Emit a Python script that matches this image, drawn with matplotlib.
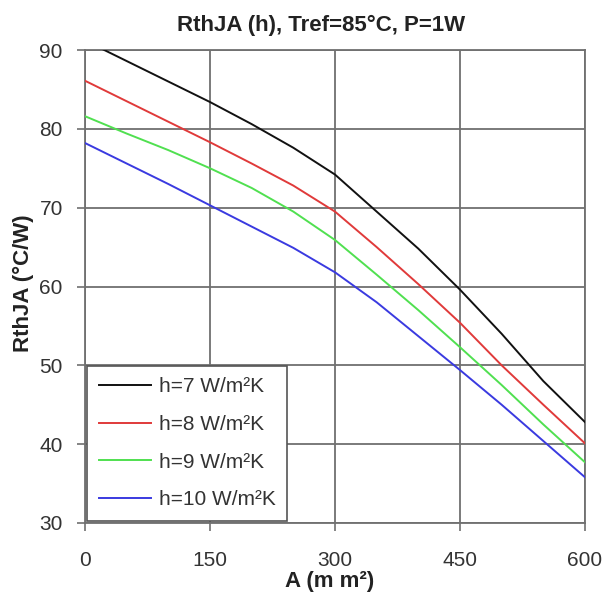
import matplotlib
matplotlib.use("Agg")
import matplotlib.pyplot as plt

area = [0, 50, 100, 150, 200, 250, 300, 350, 400, 450, 500, 550, 600]
r_h7 = [91.2, 88.6, 86.0, 83.4, 80.6, 77.6, 74.2, 69.5, 64.8, 59.6, 54.0, 48.0, 42.8]
r_h8 = [86.1, 83.5, 80.9, 78.3, 75.6, 72.8, 69.5, 65.0, 60.3, 55.4, 50.0, 45.0, 40.1]
r_h9 = [81.6, 79.4, 77.3, 75.0, 72.5, 69.5, 65.9, 61.5, 57.0, 52.3, 47.5, 42.5, 37.7]
r_h10 = [78.2, 75.6, 73.0, 70.3, 67.6, 64.9, 61.8, 58.0, 53.7, 49.4, 45.0, 40.4, 35.8]
labels = ["h=7 W/m²K", "h=8 W/m²K", "h=9 W/m²K", "h=10 W/m²K"]
colors = ["#111111", "#e03a3a", "#50e050", "#3a3ae0"]
xticks = [0, 150, 300, 450, 600]
yticks = [30, 40, 50, 60, 70, 80, 90]

plt.rcParams['font.family'] = ['Liberation Sans', 'DejaVu Sans']

W, H = 605, 592
fig = plt.figure(figsize=(W/100, H/100), dpi=100)
ax = fig.add_axes([85/W, 1-523/H, 500/W, 473/H])

grid_c = "#707070"
for s, lab, c in zip([r_h7, r_h8, r_h9, r_h10], labels, colors):
    ax.plot(area, s, color=c, lw=1.4, label=lab, zorder=3)

ax.set_xlim(0, 600)
ax.set_ylim(30, 90)
ax.set_xticks(xticks)
ax.set_yticks(yticks)
ax.grid(True, color=grid_c, lw=1.3)
for sp in ax.spines.values():
    sp.set_color(grid_c)
    sp.set_linewidth(1.3)
ax.tick_params(axis='both', colors=grid_c, length=6, width=1.2, labelsize=15,
               labelcolor="#333333")
ax.tick_params(axis='x', pad=14)
ax.tick_params(axis='y', pad=10)

fig.text(321.5/W, 1-25/H, "RthJA (h), Tref=85°C, P=1W", fontsize=16,
         fontweight='bold', color="#222222", ha='center', va='center')
fig.text(330/W, 1-582/H, "A (m m²)", fontsize=16, fontweight='bold',
         color="#222222", ha='center', va='center')
fig.text(23/W, 1-283/H, "RthJA (°C/W)", fontsize=16, fontweight='bold',
         color="#222222", ha='center', va='center', rotation=90)

leg = ax.legend(loc='lower left', bbox_to_anchor=(0.0, 0.0), fontsize=15,
                frameon=True, fancybox=False, handlelength=2.5, labelspacing=0.9,
                borderpad=0.55, handletextpad=0.4, borderaxespad=0.1)
leg.get_frame().set_edgecolor("#555555")
leg.get_frame().set_linewidth(1.2)
leg.get_frame().set_alpha(1)
for t in leg.get_texts():
    t.set_color("#333333")

fig.savefig("out.png", dpi=100, facecolor="white")
